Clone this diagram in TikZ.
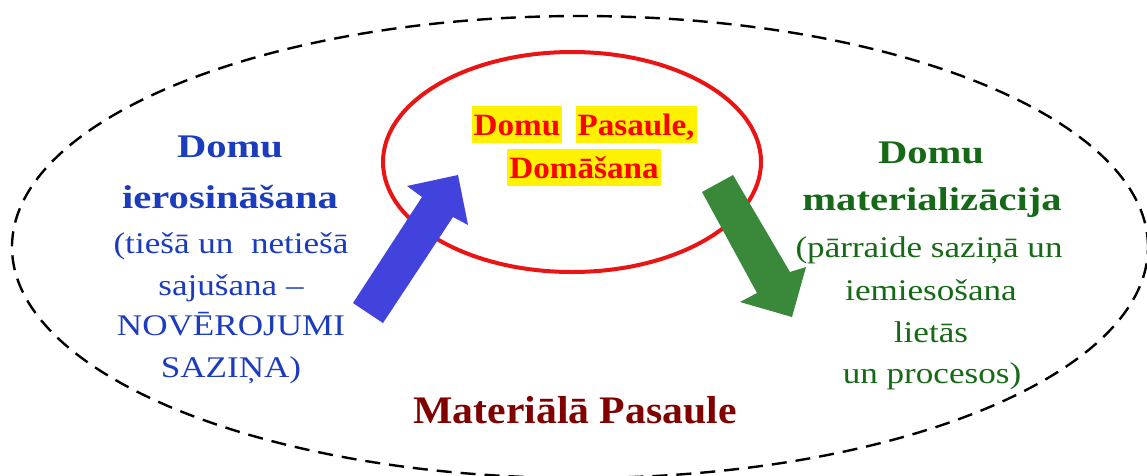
\documentclass[tikz,border=0pt]{standalone}
\usepackage{fontspec}
\setmainfont{Liberation Serif}
\newfontfamily\fbold[FakeStretch=1.23]{Liberation Serif}
\newfontfamily\freg[FakeStretch=1.17]{Liberation Serif}
\newfontfamily\fmid[FakeStretch=1.07]{Liberation Serif}
\definecolor{txtblue}{RGB}{28,60,190}
\definecolor{txtgreen}{RGB}{22,105,22}
\definecolor{txtdred}{RGB}{128,0,0}
\definecolor{arrblue}{RGB}{66,66,221}
\definecolor{arrgreen}{RGB}{58,137,58}
\definecolor{ringred}{RGB}{235,20,20}
\tikzset{
  outerworld/.style={draw=black, line width=2.4pt, dash pattern=on 15pt off 9pt},
  thoughtring/.style={draw=ringred, line width=4pt},
  hl/.style={fill=yellow, text=red, font=\fmid\bfseries\fontsize{31}{34}\selectfont,
     inner xsep=2pt, inner ysep=0pt, text height=29pt, text depth=8pt, anchor=base},
  lbold/.style={anchor=base, inner sep=0pt, text=txtblue, font=\fbold\bfseries\fontsize{33}{36}\selectfont},
  lreg/.style={anchor=base, inner sep=0pt, text=txtblue, font=\freg\fontsize{30}{33}\selectfont},
  rbold/.style={anchor=base, inner sep=0pt, text=txtgreen, font=\fbold\bfseries\fontsize{33}{36}\selectfont},
  rreg/.style={anchor=base, inner sep=0pt, text=txtgreen, font=\freg\fontsize{30}{33}\selectfont},
  world/.style={anchor=base, inner sep=0pt, text=txtdred, font=\fmid\bfseries\fontsize{39}{42}\selectfont}
}
\begin{document}
\begin{tikzpicture}[x=1pt,y=-1pt]
\clip (0,0) rectangle (1147,475);
\fill[white] (0,0) rectangle (1147,475);
% outer dashed ellipse (material world)
\draw[outerworld] (580,247) ellipse [x radius=568pt, y radius=231pt];
% red ellipse (thought world)
\draw[thoughtring] (572,162) ellipse [x radius=189pt, y radius=110pt];
% centre labels
\node[hl] (c1) at (517,135) {Domu};
\node[hl] (c2) at (636,135) {Pasaule,};
\node[hl] (c3) at (584,178) {Domāšana};
% blue arrow
\coordinate (b1) at (353,303);
\coordinate (b2) at (422,197);
\coordinate (b3) at (407,186);
\coordinate (b4) at (458,175);
\coordinate (b5) at (468,225);
\coordinate (b6) at (453,217);
\coordinate (b7) at (383,323);
\fill[arrblue] (b1) -- (b2) -- (b3) -- (b4) -- (b5) -- (b6) -- (b7) -- cycle;
% green arrow
\coordinate (g1) at (733,175);
\coordinate (g2) at (790,272);
\coordinate (g3) at (806,267);
\coordinate (g4) at (792,317);
\coordinate (g5) at (740,302);
\coordinate (g6) at (757,293);
\coordinate (g7) at (702,192);
\fill[arrgreen] (g1) -- (g2) -- (g3) -- (g4) -- (g5) -- (g6) -- (g7) -- cycle;
% left text
\node[lbold] (l1) at (230,157) {Domu};
\node[lbold] (l2) at (230,208) {ierosināšana};
\node[lreg] (l3) at (231,253) {(tiešā un \ netiešā};
\node[lreg] (l4) at (231,295) {sajušana –};
\node[lreg] (l5) at (231,335) {NOVĒROJUMI};
\node[lreg] (l6) at (231,377) {SAZIŅA)};
% right text
\node[rbold] (r1) at (931,163) {Domu};
\node[rbold] (r2) at (932,210) {materializācija};
\node[rreg] (r3) at (929,257) {(pārraide saziņā un};
\node[rreg] (r4) at (931,300) {iemiesošana};
\node[rreg] (r5) at (931,342) {lietās};
\node[rreg] (r6) at (932,383) {un procesos)};
% bottom label
\node[world] (w) at (575,423) {Materiālā Pasaule};
\end{tikzpicture}
\end{document}
